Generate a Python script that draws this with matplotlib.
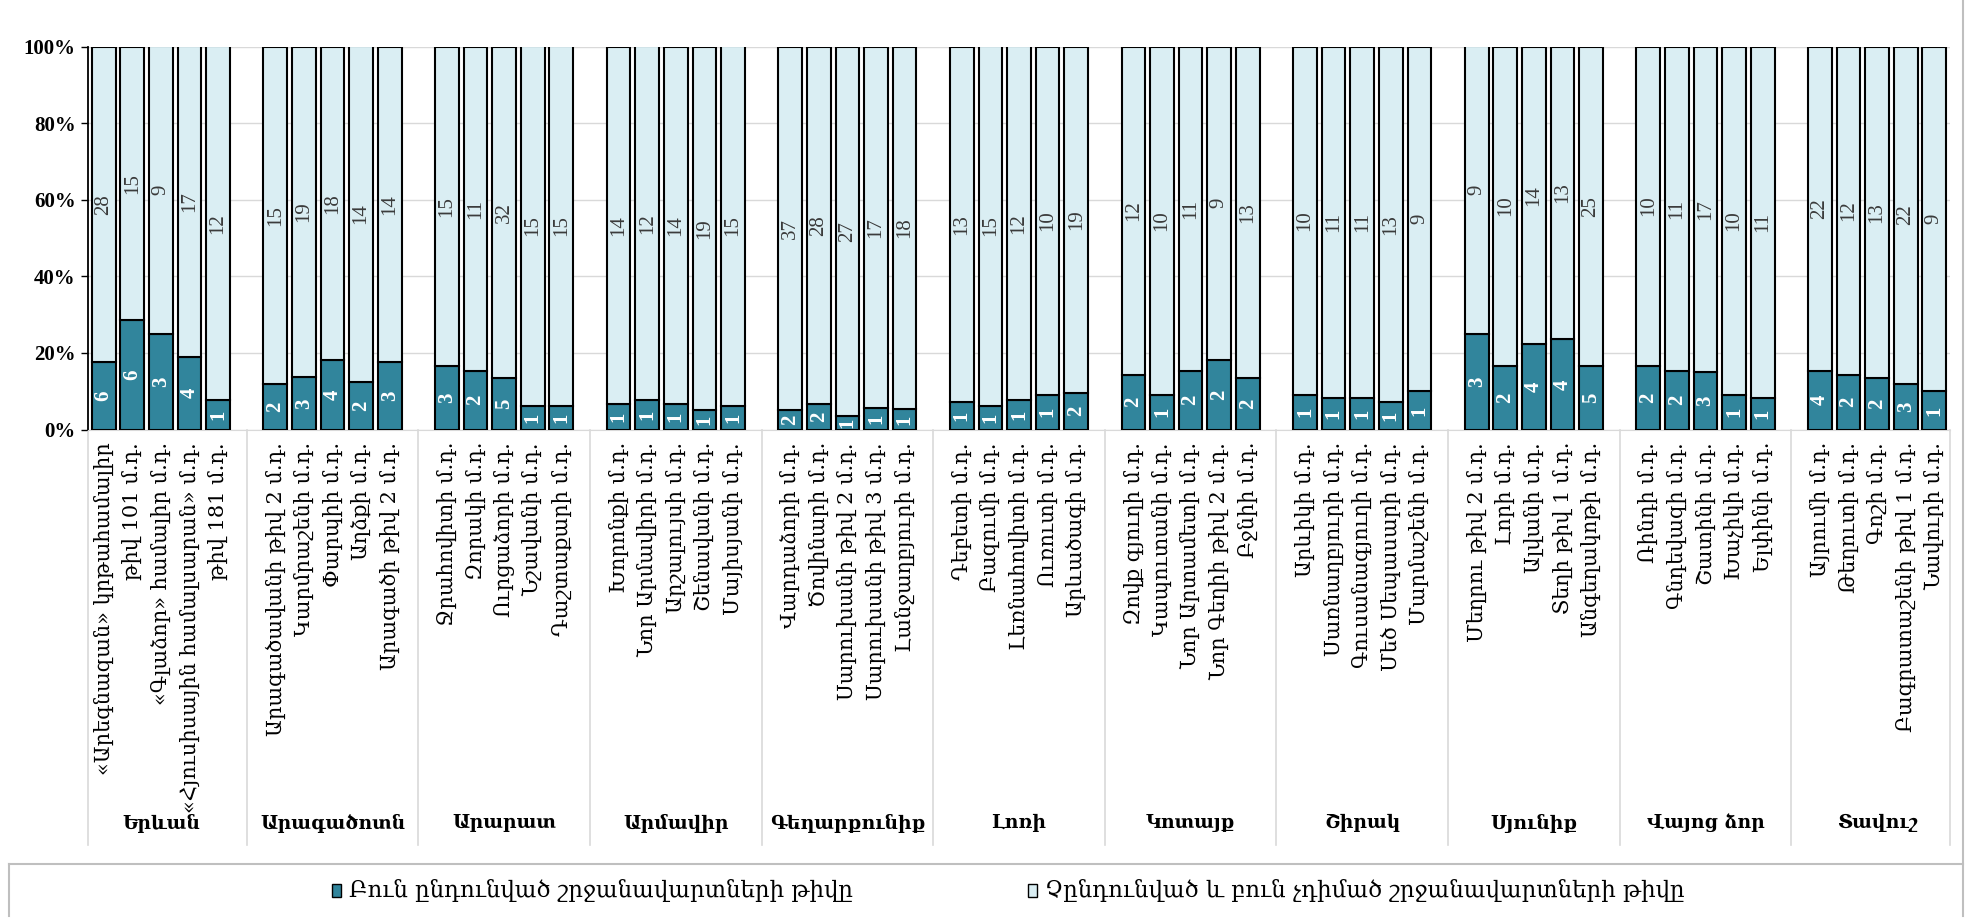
import matplotlib
matplotlib.use("Agg")
import matplotlib.pyplot as plt
from matplotlib.patches import Rectangle
from matplotlib.lines import Line2D
from matplotlib.ticker import PercentFormatter

regions = ["Երևան", "Արագածոտն", "Արարատ", "Արմավիր", "Գեղարքունիք", "Լոռի",
           "Կոտայք", "Շիրակ", "Սյունիք", "Վայոց ձոր", "Տավուշ"]

schools = [
    ["«Արեգնազան» կրթահամալիր", "թիվ 101 մ.դ.", "«Գլաձոր» համալիր մ.դ.",
     "«Հյուսիսային համալսարան» մ.դ.", "թիվ 181 մ.դ."],
    ["Արագածավանի թիվ 2 մ.դ.", "Կարմրաշենի մ.դ.", "Փարպիի մ.դ.", "Աղձքի մ.դ.",
     "Արագածի թիվ 2 մ.դ."],
    ["Ջրահովիտի մ.դ.", "Զորակի մ.դ.", "Ուրցաձորի մ.դ.", "Նշավանի մ.դ.",
     "Դաշտաքարի մ.դ."],
    ["Խորոնքի մ.դ.", "Նոր Արմավիրի մ.դ.", "Արշալույսի մ.դ.", "Շենավանի մ.դ.",
     "Մայիսյանի մ.դ."],
    ["Վարդաձորի մ.դ.", "Ծովինարի մ.դ.", "Սարուխանի թիվ 2 մ.դ.",
     "Սարուխանի թիվ 3 մ.դ.", "Լանջաղբյուրի մ.դ."],
    ["Դեբետի մ.դ.", "Բազումի մ.դ.", "Լեռնահովիտի մ.դ.", "Ուռուտի մ.դ.",
     "Արևածագի մ.դ."],
    ["Զովք գյուղի մ.դ.", "Կապուտանի մ.դ.", "Նոր Արտամետի մ.դ.",
     "Նոր Գեղիի թիվ 2 մ.դ.", "Բջնիի մ.դ."],
    ["Արևիկի մ.դ.", "Սառնաղբյուրի մ.դ.", "Գուսանագյուղի մ.դ.",
     "Մեծ Սեպասարի մ.դ.", "Մարմաշենի մ.դ."],
    ["Մեղրու թիվ 2 մ.դ.", "Լորի մ.դ.", "Ալվանի մ.դ.", "Տեղի թիվ 1 մ.դ.",
     "Անգեղակոթի մ.դ."],
    ["Ռինդի մ.դ.", "Գնդեվազի մ.դ.", "Շատինի մ.դ.", "Խաչիկի մ.դ.", "Ելփինի մ.դ."],
    ["Այրումի մ.դ.", "Թեղուտի մ.դ.", "Գոշի մ.դ.", "Բագրատաշենի թիվ 1 մ.դ.",
     "Նավուրի մ.դ."],
]

# graduates admitted to the main (բուն) program
admitted = [
    [6, 6, 3, 4, 1],
    [2, 3, 4, 2, 3],
    [3, 2, 5, 1, 1],
    [1, 1, 1, 1, 1],
    [2, 2, 1, 1, 1],
    [1, 1, 1, 1, 2],
    [2, 1, 2, 2, 2],
    [1, 1, 1, 1, 1],
    [3, 2, 4, 4, 5],
    [2, 2, 3, 1, 1],
    [4, 2, 2, 3, 1],
]

# not admitted or did not apply
others = [
    [28, 15, 9, 17, 12],
    [15, 19, 18, 14, 14],
    [15, 11, 32, 15, 15],
    [14, 12, 14, 19, 15],
    [37, 28, 27, 17, 18],
    [13, 15, 12, 10, 19],
    [12, 10, 11, 9, 13],
    [10, 11, 11, 13, 9],
    [9, 10, 14, 13, 25],
    [10, 11, 17, 10, 11],
    [22, 12, 13, 22, 9],
]

legend_labels = ["Բուն ընդունված շրջանավարտների թիվը",
                 "Չընդունված և բուն չդիմած շրջանավարտների թիվը"]

DARK = "#31859C"
LIGHT = "#DAEEF3"
GRID = "#D9D9D9"
ARM = ["DejaVu Serif"]
NUM = ["Liberation Serif", "DejaVu Serif"]

W, H = 1969, 918
fig = plt.figure(figsize=(W / 100, H / 100), dpi=100)
ax = fig.add_axes([88 / W, 1 - 429.5 / H, (1950 - 88) / W, (429.5 - 46.5) / H])

xs, labels, dark, light, n_dark, n_light = [], [], [], [], [], []
for g, names in enumerate(schools):
    for j, name in enumerate(names):
        a, o = admitted[g][j], others[g][j]
        xs.append(g * 6 + j)
        labels.append(name)
        dark.append(a / (a + o))
        light.append(o / (a + o))
        n_dark.append(a)
        n_light.append(o)

bw = 0.83
ax.bar(xs, dark, width=bw, color=DARK, edgecolor="black", linewidth=1.5, zorder=3)
ax.bar(xs, light, bottom=dark, width=bw, color=LIGHT, edgecolor="black",
       linewidth=1.5, zorder=3)

for xi, d, l, nd, nl in zip(xs, dark, light, n_dark, n_light):
    ax.text(xi, d / 2, str(nd), rotation=90, ha="center", va="center",
            color="white", fontweight="bold", fontsize=15, family=NUM, zorder=4)
    ax.text(xi, d + l / 2, str(nl), rotation=90, ha="center", va="center",
            color="#3A3A3A", fontsize=15, family=NUM, zorder=4)

ax.set_xlim(-0.55, 64.55)
ax.set_ylim(0, 1)
ax.set_yticks([0, 0.2, 0.4, 0.6, 0.8, 1.0])
ax.yaxis.set_major_formatter(PercentFormatter(1.0, decimals=0))
for t in ax.get_yticklabels():
    t.set_fontfamily(NUM)
    t.set_fontweight("bold")
    t.set_fontsize(15)
ax.tick_params(axis="y", length=5, width=1, color="black", pad=4)
ax.grid(axis="y", color=GRID, linewidth=1, zorder=0)

ax.set_xticks(xs)
ax.set_xticklabels(labels, rotation=90, fontsize=15, family=ARM)
ax.tick_params(axis="x", length=0, pad=9)

for s in ["top", "right"]:
    ax.spines[s].set_visible(False)
ax.spines["left"].set_color("black")
ax.spines["left"].set_linewidth(1.3)
ax.spines["bottom"].set_color(GRID)

# group names and separators in the category area
trans = ax.get_xaxis_transform()
y_sep = (429.5 - 845) / (429.5 - 46.5)
y_name = (429.5 - 823) / (429.5 - 46.5)
for g, name in enumerate(regions):
    ax.text(g * 6 + 2, y_name, name, transform=trans, ha="center", va="center",
            fontsize=13.5, fontweight="bold", family=ARM)
for b in range(12):
    xb = b * 6 - 0.55 if b == 0 else (64.55 if b == 11 else b * 6 - 1)
    ax.add_line(Line2D([xb, xb], [0, y_sep], transform=trans, color=GRID,
                       linewidth=1.2, clip_on=False))

# legend box
ft = fig.transFigure
fig.add_artist(Line2D([9 / W, 1963 / W], [1 - 864 / H] * 2, transform=ft,
                      color="#BFBFBF", linewidth=1.5))
fig.add_artist(Line2D([9 / W, 9 / W], [1 - 864 / H, 1 - 916 / H], transform=ft,
                      color="#BFBFBF", linewidth=1.5))
fig.add_artist(Line2D([1963 / W, 1963 / W], [1, 1 - 916 / H], transform=ft,
                      color="#BFBFBF", linewidth=1.5))

for (mx, tx), lab, col in zip([(336, 349), (1032, 1045)], legend_labels, [DARK, LIGHT]):
    fig.add_artist(Rectangle(((mx - 4.5) / W, 1 - 897 / H), 9 / W, 13 / H,
                             transform=ft, facecolor=col, edgecolor="black",
                             linewidth=1))
    fig.text(tx / W, 1 - 891 / H, lab, ha="left", va="center", fontsize=16.5,
             family=ARM)

fig.savefig("out.png", dpi=100)
